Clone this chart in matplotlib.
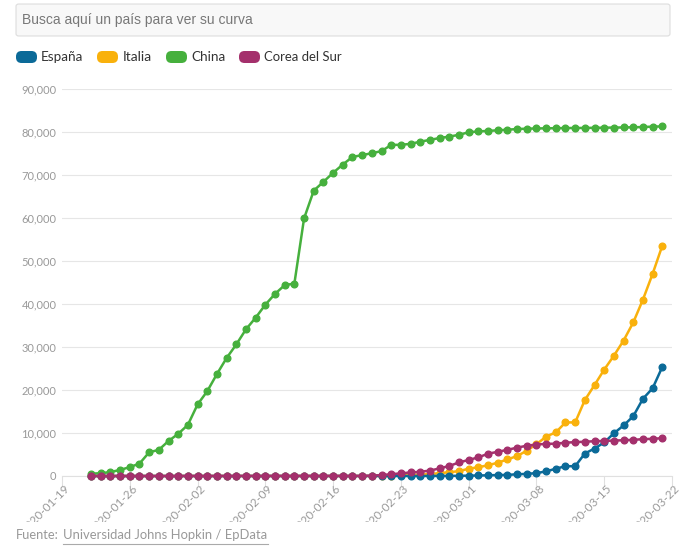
import numpy as np
import pandas as pd
import matplotlib
matplotlib.use("Agg")
import matplotlib.pyplot as plt
from matplotlib.patches import FancyBboxPatch
from matplotlib.ticker import FuncFormatter, MultipleLocator
from matplotlib.transforms import Bbox, ScaledTranslation

plt.rcParams["font.family"] = ["Lato", "DejaVu Sans"]

dates = pd.date_range("2020-01-22", "2020-03-21", freq="D")

china = [548, 643, 920, 1406, 2075, 2877, 5509, 6087, 8141, 9802, 11891, 16630, 19716,
         23707, 27440, 30587, 34110, 36814, 39829, 42354, 44386, 44759, 59895, 66358,
         68413, 70513, 72434, 74211, 74619, 75077, 75550, 77001, 77022, 77241, 77754,
         78166, 78600, 78928, 79356, 79932, 80136, 80261, 80386, 80537, 80690, 80770,
         80823, 80860, 80887, 80921, 80932, 80945, 80977, 81003, 81033, 81058, 81102,
         81156, 81250, 81305]
italia = [0, 0, 0, 0, 0, 0, 0, 0, 0, 2, 2, 2, 2, 2, 2, 2, 3, 3, 3, 3, 3, 3, 3, 3, 3, 3,
          3, 3, 3, 3, 20, 62, 155, 229, 322, 453, 655, 888, 1128, 1694, 2036, 2502, 3089,
          3858, 4636, 5883, 7375, 9172, 10149, 12462, 12462, 17660, 21157, 24747, 27980,
          31506, 35713, 41035, 47021, 53578]
espana = [0, 0, 0, 0, 0, 0, 0, 0, 0, 0, 1, 1, 1, 1, 1, 1, 1, 1, 2, 2, 2, 2, 2, 2, 2, 2,
          2, 2, 2, 2, 2, 2, 2, 2, 6, 13, 15, 32, 45, 84, 120, 165, 222, 259, 400, 500,
          673, 1073, 1695, 2277, 2277, 5232, 6391, 7798, 9942, 11748, 13910, 17963,
          20410, 25374]
corea = [1, 1, 2, 2, 3, 4, 4, 4, 4, 11, 12, 15, 15, 16, 19, 23, 24, 24, 25, 27, 28, 28,
         28, 28, 28, 29, 30, 31, 31, 104, 204, 433, 602, 833, 977, 1261, 1766, 2337, 3150,
         3736, 4335, 5186, 5621, 6088, 6593, 7041, 7314, 7478, 7513, 7755, 7869, 7979,
         8086, 8162, 8236, 8320, 8413, 8565, 8652, 8799]

names = ["España", "Italia", "China", "Corea del Sur"]
colors = ["#0b6a98", "#f9b10c", "#46b03d", "#a4306c"]
series = [espana, italia, china, corea]
draw_order = [2, 1, 0, 3]

W, H = 691, 552
fig = plt.figure(figsize=(W / 100, H / 100), dpi=100)
renderer = fig.canvas.get_renderer()


def fit_text(x, y, s, width, size, **kw):
    # place text and rescale its size so it spans `width` pixels
    t = fig.text(x / W, (H - y) / H, s, fontsize=size, va="center", **kw)
    w = t.get_window_extent(renderer).width
    t.set_fontsize(size * width / w)
    return t


# search box
fig.patches.append(FancyBboxPatch((16 / W, (H - 36) / H), 654 / W, 32 / H,
                                  boxstyle="round,pad=0,rounding_size=0.004",
                                  transform=fig.transFigure, facecolor="#f8f8f8",
                                  edgecolor="#dddddd", linewidth=0.8))
fit_text(22, 20, "Busca aquí un país para ver su curva", 231, 11,
         color="#777777", family=["Liberation Sans", "DejaVu Sans"])

# legend
box_x = [16, 97, 166, 239]
text_x = [41, 123, 191, 264]
text_w = [42, 29, 34, 78]
for bx, tx, tw, name, c in zip(box_x, text_x, text_w, names, colors):
    fig.patches.append(FancyBboxPatch((bx / W, (H - 63) / H), 21 / W, 12 / H,
                                      boxstyle="round,pad=0,rounding_size=0.008",
                                      transform=fig.transFigure, facecolor=c,
                                      edgecolor="none", mutation_aspect=W / H))
    fit_text(tx, 57, name, tw, 10, color="#333333")

ax = fig.add_axes([62 / W, (H - 476) / H, 610 / W, 387 / H])
for i in draw_order:
    ax.plot(dates, series[i], color=colors[i], lw=1.8, marker="o", ms=4.8,
            clip_on=False, zorder=3 + draw_order.index(i))

ax.set_xlim(pd.Timestamp("2020-01-19"), pd.Timestamp("2020-03-22"))
ax.set_ylim(0, 90000)
ax.yaxis.set_major_locator(MultipleLocator(10000))
ax.yaxis.set_major_formatter(FuncFormatter(lambda v, p: f"{int(v):,}"))
ticks = pd.date_range("2020-01-19", "2020-03-22", freq="7D")
ax.set_xticks(ticks)
ax.set_xticklabels([t.strftime("%Y-%m-%d") for t in ticks])
ax.grid(axis="y", color="#e6e6e6", lw=0.8)
ax.set_axisbelow(True)
for s in ["top", "right", "left"]:
    ax.spines[s].set_visible(False)
ax.spines["bottom"].set_color("#e0e0e0")
ax.tick_params(axis="y", length=0, labelsize=8, labelcolor="#999999", pad=4)
ax.tick_params(axis="x", length=7, color="#e0e0e0", labelsize=8.5,
               labelcolor="#999999", pad=1)
clip = Bbox.from_extents(0, 30, W, H)
shift = ScaledTranslation(6 / 100, 0, fig.dpi_scale_trans)
for lab in ax.get_xticklabels():
    lab.set_rotation(45)
    lab.set_ha("right")
    lab.set_va("center")
    lab.set_rotation_mode("anchor")
    lab.set_transform(lab.get_transform() + shift)
    lab.set_clip_box(clip)
    lab.set_clip_on(True)

# source footer
fit_text(16, 535, "Fuente:", 43, 10, color="#999999")
fit_text(63, 535, "Universidad Johns Hopkin / EpData", 205, 10, color="#999999")
fig.lines.append(plt.Line2D([63 / W, 268 / W], [(H - 544) / H] * 2,
                            transform=fig.transFigure, color="#aaaaaa", lw=0.8))

fig.savefig("out.png", dpi=100)
